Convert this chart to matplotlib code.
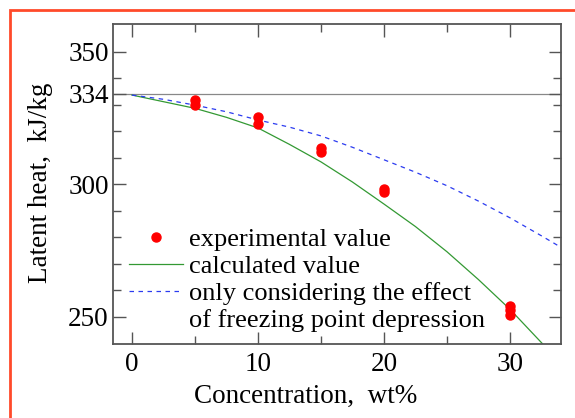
import numpy as np
import matplotlib
matplotlib.use("Agg")
import matplotlib.pyplot as plt
from matplotlib.lines import Line2D
from matplotlib.patches import Rectangle

# experimental points
conc_exp = [5, 5, 10, 10, 15, 15, 20, 20, 30, 30, 30]
heat_exp = [331.8, 329.8, 325.5, 322.5, 313.8, 312.3, 298.0, 297.0, 254.0, 252.5, 250.5]

# calculated value (solid green)
conc_calc = [0, 2.5, 5, 7.5, 10, 12.5, 15, 17.5, 20, 22.5, 25, 27.5, 30, 32.6]
heat_calc = [333.6, 331.1, 328.6, 325.2, 321.2, 315.0, 308.4, 300.8, 292.5, 284.0, 274.5, 264.0, 252.8, 239.7]

# only freezing point depression (dashed blue)
conc_fpd = [0, 2.5, 5, 7.5, 10, 12.5, 15, 17.5, 20, 22.5, 25, 27.5, 30, 32.5, 34]
heat_fpd = [333.6, 332.0, 329.8, 327.3, 324.2, 321.5, 318.2, 313.9, 309.2, 304.5, 299.4, 293.6, 287.3, 280.5, 276.3]

ice_heat = 334
yticks = [250, 300, 334, 350]
yminor = [260, 270, 280, 290, 310, 320, 330, 340]
xticks = [0, 10, 20, 30]
xminor = [5, 15, 25]

plt.rcParams['font.family'] = ['Liberation Serif', 'DejaVu Serif']

fig = plt.figure(figsize=(5.75, 4.18), dpi=100)
ax = fig.add_axes([113/575, 1-344/418, 448/575, 320/418])

ax.axhline(ice_heat, color='#888888', lw=0.9, zorder=1)
ln_calc, = ax.plot(conc_calc, heat_calc, color='#339933', lw=0.9, label='calculated value')
ln_fpd, = ax.plot(conc_fpd, heat_fpd, color='#2b3bf0', lw=0.9, ls=(0, (3.6, 3.6)),
                  label='only considering the effect')
ln_exp, = ax.plot(conc_exp, heat_exp, 'o', color='red', ms=6.5, mec='red',
                  label='experimental value', zorder=3)
dummy = Line2D([], [], color='none', label='of freezing point depression')

ax.set_xlim(-1.5, 34.05)
ax.set_ylim(239.7, 360.4)
ax.set_xticks(xticks)
ax.set_xticks(xminor, minor=True)
ax.set_yticks(yticks)
ax.set_yticks(yminor, minor=True)
ax.tick_params(which='both', direction='in', top=True, right=True,
               color='#555555', labelsize=19.5, width=1)
ax.tick_params(which='major', length=9, pad=3)
ax.tick_params(which='minor', length=6)
ax.tick_params(axis='x', which='major', pad=6)
for s in ax.spines.values():
    s.set_color('#555555')
    s.set_linewidth(1.3)

ax.set_xlabel('Concentration,  wt%', fontsize=19.5)
ax.xaxis.set_label_coords(0.43, -0.126)
ax.set_ylabel('Latent heat,  kJ/kg', fontsize=19.5)
ax.yaxis.set_label_coords(-0.135, 0.503)

ax.legend(handles=[ln_exp, ln_calc, ln_fpd, dummy], loc='upper left',
          bbox_to_anchor=(0.024, 0.379), frameon=False, fontsize=19,
          handlelength=2.05, handletextpad=0.23, labelspacing=0.13,
          borderpad=0.2, borderaxespad=0)

fig.patches.append(Rectangle((10/575, -0.1), 1.2, 1.1 - 10/418, fill=False,
                             edgecolor='#ff4a2a', lw=2,
                             transform=fig.transFigure, figure=fig))

fig.savefig('out.png', dpi=100)
